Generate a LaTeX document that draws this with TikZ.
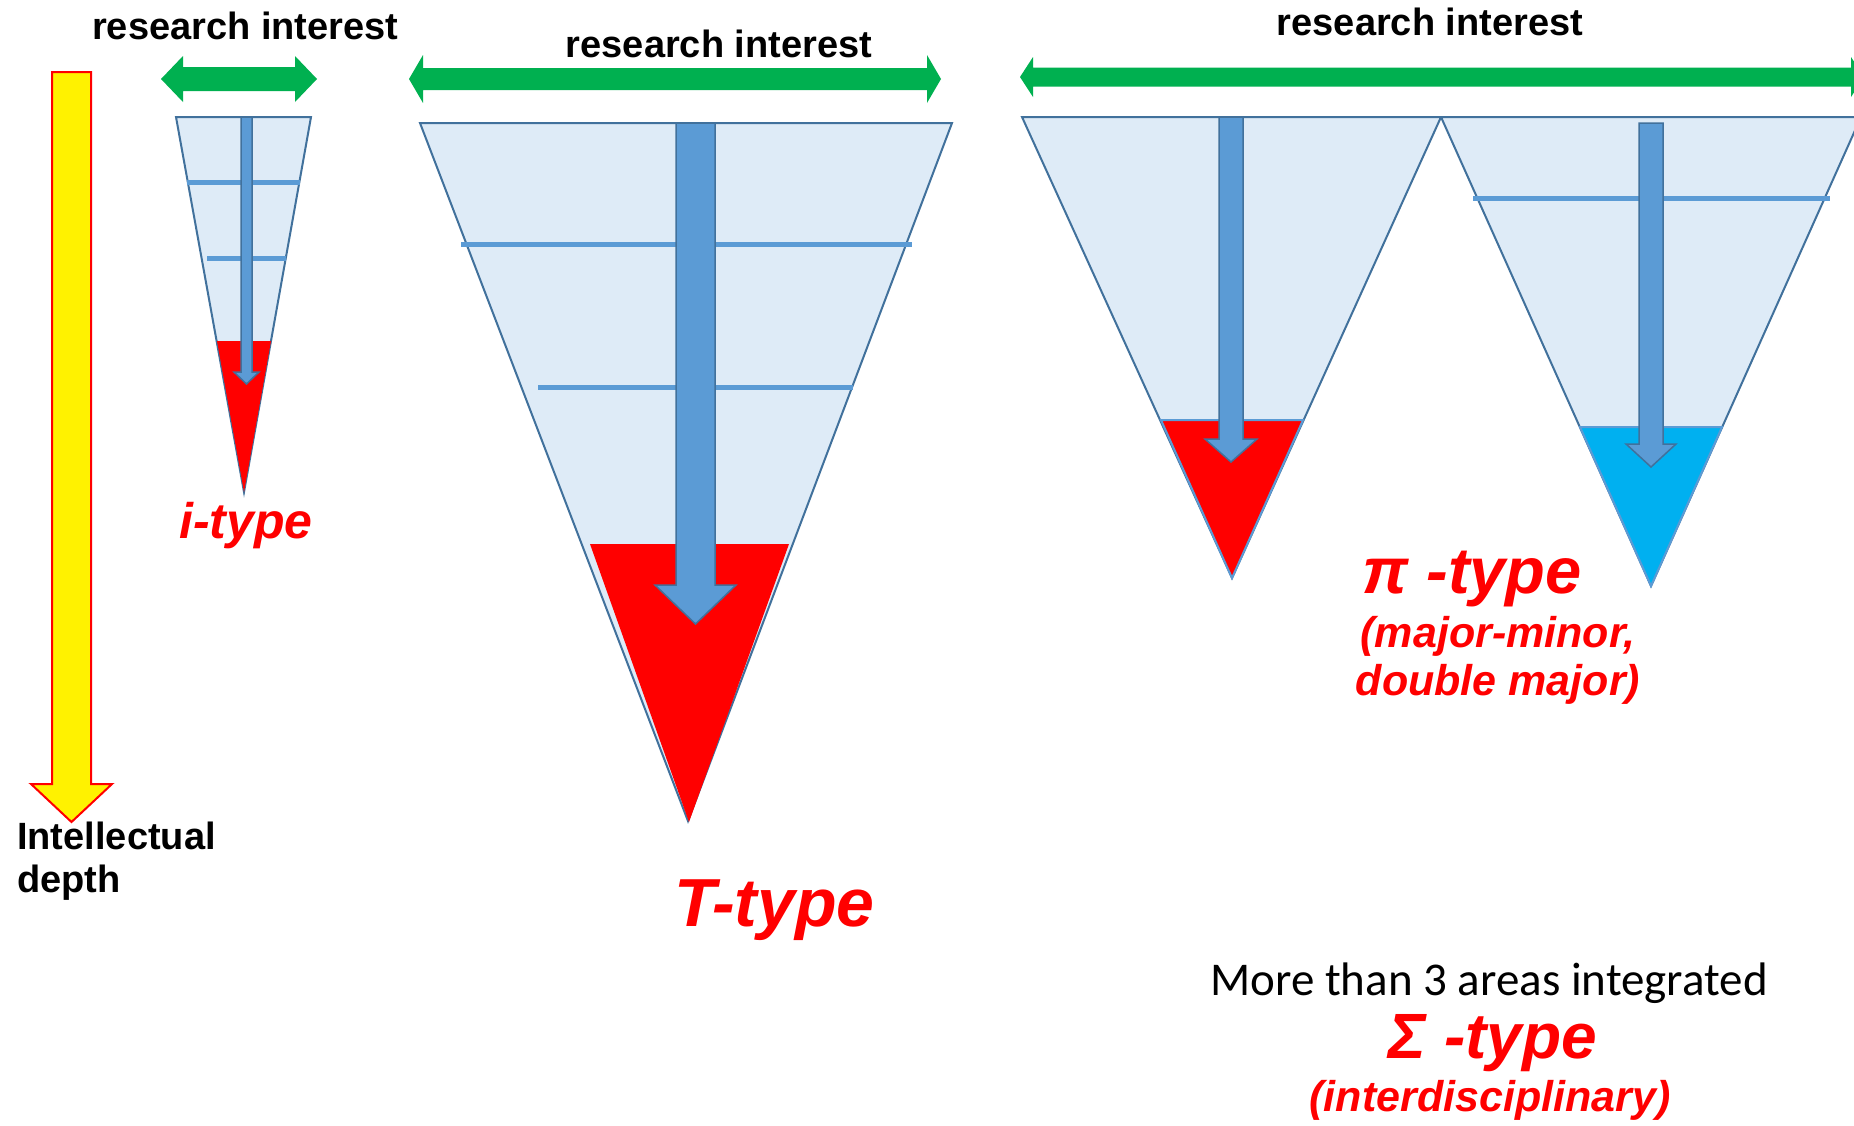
\documentclass[tikz,border=0pt]{standalone}
\usepackage{fontspec}
\setmainfont{Liberation Sans}
\newfontfamily\carlito{Carlito}
\definecolor{conefill}{HTML}{DEEBF7}
\definecolor{coneline}{HTML}{41719C}
\definecolor{shaftblue}{HTML}{5B9BD5}
\definecolor{grn}{HTML}{00B050}
\definecolor{cyanfill}{HTML}{00B0F0}
\tikzset{
  cone/.style={fill=conefill, draw=coneline, line width=2pt, line join=miter},
  deeparrow/.style={fill=shaftblue, draw=coneline, line width=1.5pt, line join=miter},
  levelline/.style={draw=shaftblue, line width=5pt},
  spanstyle/.style={fill=grn, draw=none},
  blk/.style={inner sep=0pt, text=black, font=\bfseries\fontsize{38}{40}\selectfont},
  redlbl/.style={inner sep=0pt, text=red, anchor=base},
}
\newcommand\pillar[6]{%
  \draw[deeparrow] ({#1-#2},#4) -- ({#1+#2},#4) -- ({#1+#2},#5) -- ({#1+#3},#5) -- (#1,#6) -- ({#1-#3},#5) -- ({#1-#2},#5) -- cycle;}
\newcommand\spanarrow[6]{% left, right, y, half shaft, half head, head length
  \fill[spanstyle] (#1,#3) -- ({#1+#6},{#3-#5}) -- ({#1+#6},{#3-#4}) -- ({#2-#6},{#3-#4}) -- ({#2-#6},{#3-#5}) -- (#2,#3)
   -- ({#2-#6},{#3+#5}) -- ({#2-#6},{#3+#4}) -- ({#1+#6},{#3+#4}) -- ({#1+#6},{#3+#5}) -- cycle;}
\begin{document}
\begin{tikzpicture}[x=1pt,y=-1pt]
\useasboundingbox (0,0) rectangle (1854,1125);
\clip (0,0) rectangle (1854,1125);
\fill[white] (0,0) rectangle (1854,1125);

% yellow depth arrow
\draw[fill=yellow, draw=red, line width=2pt] (52,72) -- (91,72) -- (91,784) -- (112,784) -- (71.5,822) -- (31,784) -- (52,784) -- cycle;
\node[blk, anchor=base west] (depth1) at (17,849) {Intellectual};
\node[blk, anchor=base west] (depth2) at (17,892) {depth};

% green interest arrows
\spanarrow{161}{317}{79}{12}{23}{22}
\spanarrow{409}{941}{79}{11}{24}{14}
\spanarrow{1020}{1864}{77}{9.5}{20}{13}
\node[blk, anchor=base west] (ri1) at (92,39) {research interest};
\node[blk, anchor=base] (ri2) at (719,57) {research interest};
\node[blk, anchor=base] (ri3) at (1430,35) {research interest};

% i-type
\draw[cone] (176,117) -- (311,117) -- (244,492) -- cycle;
\fill[red] (217,341) -- (271,341) -- (244,492) -- cycle;
\draw[levelline] (187,182) -- (300,182);
\draw[levelline] (207,258) -- (286,258);
\pillar{246.5}{5.5}{12.5}{117}{372}{384}
\node[redlbl, font=\bfseries\itshape\fontsize{50}{52}\selectfont] (itype) at (246,538) {i-type};

% T-type
\draw[cone] (420,123) -- (952,123) -- (688,821) -- cycle;
\draw[levelline] (461,244) -- (912,244);
\draw[levelline] (538,387) -- (853,387);
\fill[red] (590,544) -- (789,544) -- (689,822) -- cycle;
\pillar{695.5}{19.5}{40.5}{123}{585}{624}
\node[redlbl, font=\bfseries\itshape\fontsize{68}{70}\selectfont] (ttype) at (774.5,926) {T-type};

% pi-type
\draw[cone] (1022,117) -- (1441,117) -- (1232,578) -- cycle;
\draw[cone] (1441,117) -- (1861,117) -- (1651,586) -- cycle;
\draw[fill=red, draw=shaftblue, line width=2pt] (1161,420) -- (1303,420) -- (1232,578) -- cycle;
\draw[fill=cyanfill, draw=shaftblue, line width=2pt] (1580,427) -- (1722,427) -- (1651,586) -- cycle;
\draw[levelline] (1473,198) -- (1830,198);
\pillar{1231}{12}{26}{117}{439}{462}
\pillar{1651}{12}{25}{123}{444}{467}
\node[redlbl, font=\bfseries\itshape\fontsize{65}{67}\selectfont] (pitype) at (1472,593) {π -type};
\node[redlbl, font=\bfseries\itshape\fontsize{43}{45}\selectfont] (pinote1) at (1498,647) {(major-minor,};
\node[redlbl, font=\bfseries\itshape\fontsize{43}{45}\selectfont] (pinote2) at (1498,695) {double major)};

% sigma-type
\node[inner sep=0pt, anchor=base, font=\carlito\fontsize{47}{49}\selectfont] (more) at (1489,995) {More than 3 areas integrated};
\node[redlbl, font=\bfseries\itshape\fontsize{64}{66}\selectfont] (sigtype) at (1493,1058) {Σ -type};
\node[redlbl, font=\bfseries\itshape\fontsize{43}{45}\selectfont] (signote) at (1490,1111) {(interdisciplinary)};
\end{tikzpicture}
\end{document}
